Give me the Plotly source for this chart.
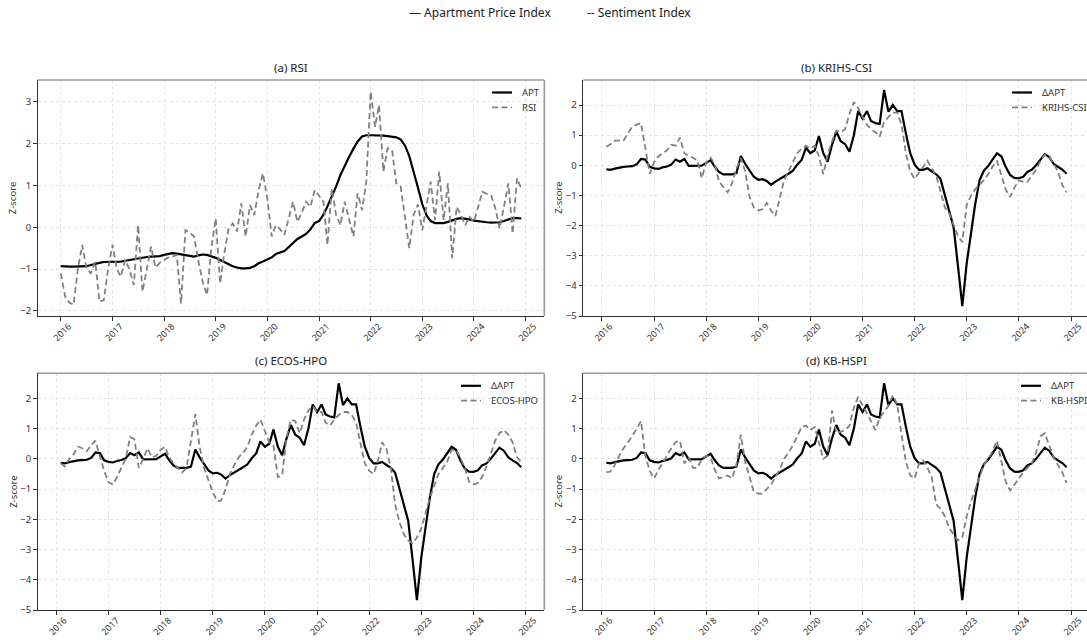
import pandas as pd
import plotly.graph_objects as go

# ---------------- data ----------------
dates_level = pd.date_range("2016-01-01", "2024-12-01", freq="MS")   # 108 months
dates_diff = pd.date_range("2016-02-01", "2024-12-01", freq="MS")    # 107 months

apt_level = [
    -0.93, -0.94, -0.94, -0.94, -0.94, -0.94, -0.93, -0.90, -0.87, -0.85, -0.83, -0.83,
    -0.83, -0.82, -0.82, -0.80, -0.78, -0.76, -0.74, -0.72, -0.71, -0.70, -0.70, -0.69,
    -0.66, -0.63, -0.62, -0.63, -0.65, -0.67, -0.69, -0.70, -0.67, -0.65, -0.66, -0.69,
    -0.73, -0.78, -0.83, -0.88, -0.93, -0.96, -0.98, -0.98, -0.97, -0.93, -0.86, -0.82,
    -0.77, -0.72, -0.64, -0.60, -0.57, -0.47, -0.38, -0.28, -0.22, -0.16, -0.05, 0.10,
    0.15, 0.30, 0.50, 0.72, 0.97, 1.25, 1.48, 1.68, 1.88, 2.05, 2.17, 2.20,
    2.20, 2.20, 2.19, 2.19, 2.18, 2.17, 2.15, 2.10, 1.95, 1.70, 1.35, 0.95,
    0.55, 0.28, 0.15, 0.10, 0.10, 0.10, 0.13, 0.17, 0.20, 0.22, 0.21, 0.19,
    0.16, 0.14, 0.13, 0.12, 0.11, 0.11, 0.12, 0.15, 0.19, 0.22, 0.22, 0.21,
]

rsi = [
    -1.10, -1.65, -1.80, -1.85, -1.00, -0.42, -0.98, -1.10, -0.82, -1.78, -1.74, -1.00,
    -0.42, -1.00, -1.18, -0.78, -1.00, -1.38, 0.05, -1.54, -1.00, -0.46, -0.96, -0.85,
    -0.78, -0.72, -0.70, -0.66, -1.82, -0.07, -0.12, -0.22, -0.82, -1.30, -1.62, -0.50,
    0.21, -1.34, -0.66, -0.05, 0.09, -0.10, 0.57, -0.22, 0.53, 0.29, 0.90, 1.29,
    0.69, -0.22, 0.05, -0.05, -0.18, 0.20, 0.61, 0.13, 0.35, 0.61, 0.49, 0.89,
    0.75, 0.61, -0.42, 0.93, 0.30, 0.05, 0.61, 0.20, -0.22, 0.81, 0.41, 1.09,
    3.24, 2.40, 2.92, 1.33, 1.89, 1.85, 1.05, 0.97, 0.20, -0.50, 0.30, 0.55,
    -0.07, 0.50, 1.09, 0.17, 1.33, 0.17, 1.05, -0.74, 0.49, 0.30, 0.05, 0.25,
    0.13, 0.50, 0.85, 0.80, 0.77, 0.45, -0.03, 0.50, 1.05, -0.15, 1.17, 0.93,
]

d_apt = [
    -0.13, -0.15, -0.11, -0.07, -0.05, -0.04, -0.03, 0.03, 0.21, 0.19, -0.05, -0.10,
    -0.12, -0.07, -0.04, 0.02, 0.19, 0.12, 0.21, -0.02, -0.02, -0.02, -0.01, 0.08,
    0.17, -0.04, -0.22, -0.30, -0.30, -0.30, -0.26, 0.31, 0.05, -0.18, -0.38, -0.48,
    -0.46, -0.52, -0.65, -0.54, -0.46, -0.36, -0.28, -0.18, 0.02, 0.18, 0.58, 0.40,
    0.50, 0.97, 0.40, 0.12, 0.68, 1.12, 0.80, 0.70, 0.45, 1.00, 1.80, 1.55,
    1.80, 1.47, 1.40, 1.37, 2.50, 1.78, 2.00, 1.80, 1.80, 1.05, 0.40, 0.02,
    -0.15, -0.15, -0.10, -0.20, -0.30, -0.45, -1.00, -1.50, -2.05, -3.35, -4.67, -3.25,
    -2.25, -1.30, -0.50, -0.18, -0.02, 0.20, 0.40, 0.30, -0.05, -0.32, -0.42, -0.43,
    -0.38, -0.22, -0.15, 0.00, 0.20, 0.37, 0.27, 0.05, -0.05, -0.14, -0.28,
]

krihs_csi = [
    0.62, 0.70, 0.82, 0.82, 0.82, 1.06, 1.28, 1.35, 1.40, 0.55, -0.28, 0.10,
    0.30, 0.40, 0.50, 0.68, 0.65, 0.92, 0.40, 0.30, 0.25, 0.15, -0.43, 0.10,
    0.25, 0.05, -0.54, -0.72, -0.90, -0.60, -0.10, 0.24, -0.20, -1.05, -1.40, -1.50,
    -1.45, -1.25, -1.50, -1.68, -1.10, -0.50, -0.20, 0.10, 0.40, 0.55, 0.65, 0.55,
    0.65, 0.30, -0.30, 0.35, 0.80, 1.15, 1.10, 1.20, 1.70, 2.10, 1.90, 1.60,
    1.35, 1.20, 1.10, 0.95, 1.45, 1.60, 1.75, 1.75, 1.35, 0.40, -0.20, -0.45,
    -0.25, -0.05, 0.15, -0.10, -0.35, -0.85, -1.40, -1.60, -2.00, -2.35, -2.55, -1.30,
    -1.00, -0.80, -0.65, -0.50, -0.30, -0.05, 0.15, -0.30, -0.80, -1.05, -0.75, -0.50,
    -0.55, -0.55, -0.35, -0.15, 0.15, 0.35, 0.30, 0.05, -0.20, -0.65, -0.90,
]

ecos_hpo = [
    -0.15, -0.25, 0.00, 0.15, 0.40, 0.35, 0.25, 0.45, 0.60, 0.10, -0.40, -0.78,
    -0.85, -0.60, -0.30, 0.00, 0.72, 0.65, -0.30, 0.00, 0.35, 0.05, 0.10, 0.30,
    0.40, 0.05, -0.15, -0.30, -0.45, -0.30, 0.60, 1.48, 0.40, -0.30, -0.70, -1.10,
    -1.40, -1.38, -1.00, -0.50, -0.20, 0.05, 0.20, 0.40, 0.80, 1.10, 1.30, 0.90,
    0.55, 0.45, -0.60, -0.55, 0.70, 1.30, 1.25, 0.85, 1.30, 1.60, 1.75, 1.55,
    1.55, 1.20, 1.10, 1.30, 1.45, 1.55, 1.55, 1.45, 1.20, 0.50, -0.15, -0.40,
    -0.50, -0.10, 0.55, 0.35, -0.30, -1.50, -2.10, -2.50, -2.70, -2.80, -2.60, -2.30,
    -1.80, -1.30, -0.90, -0.50, -0.30, -0.10, 0.30, 0.30, 0.05, -0.30, -0.75, -0.85,
    -0.80, -0.60, -0.25, 0.20, 0.60, 0.85, 0.95, 0.80, 0.55, 0.05, -0.10,
]

kb_hspi = [
    -0.45, -0.42, -0.20, 0.10, 0.35, 0.55, 0.75, 1.00, 1.25, 0.10, -0.40, -0.65,
    -0.35, -0.15, 0.10, 0.35, 0.55, 0.60, -0.15, 0.05, -0.30, -0.30, 0.00, 0.10,
    0.05, -0.35, -0.65, -0.60, -0.55, -0.65, -0.20, 0.80, -0.10, -0.60, -1.10, -1.15,
    -1.15, -1.00, -0.85, -0.60, -0.35, 0.00, 0.20, 0.45, 0.75, 1.05, 1.10, 0.95,
    1.05, 0.55, 0.00, 0.10, 1.60, 0.85, 0.90, 0.95, 1.10, 1.70, 2.05, 1.75,
    1.50, 1.25, 0.95, 1.35, 1.55, 1.75, 2.10, 1.80, 0.80, -0.10, -0.55, -0.65,
    -0.15, -0.05, -0.30, -0.60, -1.50, -1.65, -1.90, -2.30, -2.50, -2.70, -2.60, -1.90,
    -1.40, -1.00, -0.55, -0.20, 0.00, 0.25, 0.60, -0.10, -0.75, -1.05, -0.85, -0.65,
    -0.45, -0.30, -0.15, 0.20, 0.75, 0.85, 0.45, 0.05, -0.20, -0.45, -0.80,
]

panel_titles = ["(a) RSI", "(b) KRIHS-CSI", "(c) ECOS-HPO", "(d) KB-HSPI"]
sentiment_names = ["RSI", "KRIHS-CSI", "ECOS-HPO", "KB-HSPI"]
price_names = ["APT", "ΔAPT", "ΔAPT", "ΔAPT"]

# ---------------- layout geometry (screen pixels) ----------------
FW, FH = 1087, 640
FONT = "Noto Sans"


def px(x):
    return x / FW


def py(y):
    return 1 - y / FH


LEFT_X = (37.7, 544.3)
RIGHT_X = (583.3, 1089.6)
TOP_Y = (80.0, 316.0)
BOT_Y = (373.3, 610.0)
boxes = [(LEFT_X, TOP_Y), (RIGHT_X, TOP_Y), (LEFT_X, BOT_Y), (RIGHT_X, BOT_Y)]
yranges = [[-2.12, 3.52], [-5.0, 2.83], [-5.0, 2.83], [-5.0, 2.83]]
legend_text_x = [520, 1040, 489, 1049]

panels = [
    (dates_level, apt_level, rsi),
    (dates_diff, d_apt, krihs_csi),
    (dates_diff, d_apt, ecos_hpo),
    (dates_diff, d_apt, kb_hspi),
]

fig = go.Figure()
shapes = []
annotations = []
AX = "#333333"
GREY = "#808080"
DASH = "6px,3.5px"
XTICKFONT = dict(family=FONT, size=9, color="#333333")
YTICKFONT = dict(family=FONT, size=9.5, color="#333333")

for i, ((xs, ys), (dates, price, senti)) in enumerate(zip(boxes, panels)):
    n = "" if i == 0 else str(i + 1)
    span = dates[-1] - dates[0]
    x0 = dates[0] - 0.05 * span
    x1_full = dates[-1] + 0.05 * span
    px_left, px_right = xs
    px_right_vis = min(px_right, FW)
    frac = (px_right_vis - px_left) / (px_right - px_left)
    x1 = x0 + (x1_full - x0) * frac

    fig.add_trace(go.Scatter(
        x=dates, y=price, mode="lines", name=price_names[i],
        line=dict(color="black", width=2.2), xaxis="x" + n, yaxis="y" + n,
        showlegend=False,
    ))
    fig.add_trace(go.Scatter(
        x=dates, y=senti, mode="lines", name=sentiment_names[i],
        line=dict(color=GREY, width=1.8, dash=DASH),
        xaxis="x" + n, yaxis="y" + n, showlegend=False,
    ))

    fig.update_layout(**{
        "xaxis" + n: dict(
            domain=[px(px_left), px(px_right_vis)], range=[x0, x1], type="date",
            anchor="y" + n, tickformat="%Y", dtick="M12", tick0="2016-01-01",
            tickangle=-45, ticklabelshift=8, ticklabelstandoff=-3,
            showgrid=True, gridcolor="#e3e3e3", griddash="dot",
            gridwidth=1, showline=True, linecolor=AX, linewidth=1.2,
            ticks="outside", ticklen=3.5, tickwidth=1, tickcolor=AX,
            tickfont=XTICKFONT, zeroline=False, automargin=False,
        ),
        "yaxis" + n: dict(
            domain=[py(ys[1]), py(ys[0])], range=yranges[i],
            anchor="x" + n, dtick=1, tick0=0, showgrid=True,
            gridcolor="#e3e3e3", griddash="dot", gridwidth=1, showline=True,
            linecolor=AX, linewidth=1.2, ticks="outside", ticklen=3.5,
            tickwidth=1, tickcolor=AX,
            tickfont=YTICKFONT, zeroline=False, automargin=False,
        ),
    })

    # top and right spines in lighter grey
    shapes.append(dict(type="line", xref="paper", yref="paper",
                       x0=px(px_left), x1=px(px_right_vis),
                       y0=py(ys[0]), y1=py(ys[0]),
                       line=dict(color="#9a9a9a", width=1.6)))
    if px_right <= FW:
        shapes.append(dict(type="line", xref="paper", yref="paper",
                           x0=px(px_right), x1=px(px_right),
                           y0=py(ys[1]), y1=py(ys[0]),
                           line=dict(color="#9a9a9a", width=1.6)))

    # in-panel legend (line samples + labels)
    tx = legend_text_x[i]
    for k, (label, col, w, dash) in enumerate([
        (price_names[i], "black", 2.2, "solid"),
        (sentiment_names[i], GREY, 1.8, DASH),
    ]):
        ry = ys[0] + 12.5 + 14.8 * k
        shapes.append(dict(type="line", xref="paper", yref="paper",
                           x0=px(tx - 28), x1=px(tx - 8), y0=py(ry), y1=py(ry),
                           line=dict(color=col, width=w, dash=dash)))
        annotations.append(dict(
            text=label, xref="paper", yref="paper", x=px(tx), y=py(ry),
            xanchor="left", yanchor="middle", showarrow=False,
            font=dict(family=FONT, size=9.5, color="#333333"),
        ))

    # panel title
    annotations.append(dict(
        text=panel_titles[i], xref="paper", yref="paper",
        x=px((px_left + px_right) / 2), y=py(ys[0] - 13),
        xanchor="center", yanchor="middle", showarrow=False,
        font=dict(family=FONT, size=11.5, color="#222222"),
    ))
    # y-axis label
    annotations.append(dict(
        text="Z-score", xref="paper", yref="paper",
        x=px(px_left - 24.5), y=py((ys[0] + ys[1]) / 2),
        xanchor="center", yanchor="middle", textangle=-90, showarrow=False,
        font=dict(family=FONT, size=9.5, color="#333333"),
    ))

# figure-level legend text
annotations.append(dict(text="— Apartment Price Index", xref="paper", yref="paper",
                        x=px(407), y=py(13), xanchor="left", yanchor="middle",
                        showarrow=False, font=dict(family=FONT, size=12, color="#222222")))
annotations.append(dict(text="-- Sentiment Index", xref="paper", yref="paper",
                        x=px(585), y=py(13), xanchor="left", yanchor="middle",
                        showarrow=False, font=dict(family=FONT, size=12, color="#222222")))

fig.update_layout(
    width=FW, height=FH, margin=dict(l=0, r=0, t=0, b=0),
    paper_bgcolor="white", plot_bgcolor="white",
    font=dict(family=FONT, color="#333333"),
    shapes=shapes, annotations=annotations, showlegend=False,
)

# remove the browser's default page margin so the 1087x640 figure fills the window
fig.write_html(
    "out.html",
    config={"displayModeBar": False},
    post_script="document.body.style.margin='0';document.body.style.overflow='hidden';",
)
